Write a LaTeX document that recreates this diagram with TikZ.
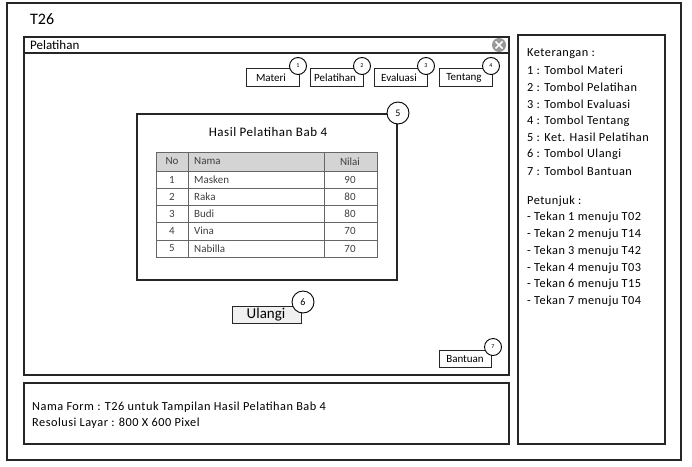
\documentclass[tikz,border=0pt]{standalone}
\usepackage{fontspec}
\setmainfont{Carlito}
\newfontfamily\spaced{Carlito}[LetterSpace=4]
\begin{document}
\begin{tikzpicture}[x=1pt,y=-1pt,
  frame/.style={draw=black!85,line width=1.3pt},
  btn/.style={draw=black!85,line width=0.9pt,fill=white},
  num/.style={draw=black,line width=0.9pt,fill=white,circle,inner sep=0pt,font=\fontsize{6}{6}\selectfont},
  txt/.style={anchor=west,inner sep=0pt,font=\spaced\fontsize{12.3}{13}\selectfont},
  cell/.style={inner sep=0pt,font=\fontsize{11}{11}\selectfont,text=black!75},
  grid/.style={draw=black!60,line width=0.9pt}]
\useasboundingbox (0,0) rectangle (692,466);
\fill[white] (0,0) rectangle (692,466);
% outer frame
\draw[frame] (7,3) rectangle (681,460);
\node[anchor=west,inner sep=0pt,font=\fontsize{16}{16}\selectfont] (title) at (30,19) {T26};
% window
\draw[frame] (24,37) rectangle (509,375);
\draw[frame] (24,53) -- (509,53);
\node[anchor=west,inner sep=0pt,font=\fontsize{13}{13}\selectfont] (wtitle) at (30,45) {Pelatihan};
\node[circle,fill=black!40,minimum size=14pt,inner sep=0pt] (close) at (499,45) {};
\draw[white,line width=1.6pt] (495.5,41.5) -- (502.5,48.5) (495.5,48.5) -- (502.5,41.5);
% top buttons
\foreach \n/\xl/\lab in {1/246/Materi,2/310/Pelatihan,3/374/Evaluasi,4/439/Tentang}{
  \draw[btn] (\xl,68) rectangle (\xl+53,86);
  \node[inner sep=0pt,font=\fontsize{11}{11}\selectfont] (b\n) at (\xl+25,77.5) {\lab};
  \node[num,minimum size=17pt] (c\n) at (\xl+52,66) {\n};
}
% result panel
\draw[frame,line width=1.1pt] (137,114) rectangle (397,280);
\node[num,minimum size=22pt,font=\fontsize{10}{10}\selectfont] (c5) at (398,113) {5};
\node[inner sep=0pt,font=\spaced\fontsize{13}{13}\selectfont] (htitle) at (268,132) {Hasil Pelatihan Bab 4};
% table
\fill[black!17] (156,152) rectangle (377,171);
\draw[grid] (156,152) rectangle (377,257);
\foreach \y in {171,188,205,222,240}{\draw[grid] (156,\y) -- (377,\y);}
\draw[grid] (188,152) -- (188,257);
\draw[grid] (324,152) -- (324,257);
\node[cell] (hno) at (172,161.5) {No};
\node[cell,anchor=west] (hnama) at (194,161.5) {Nama};
\node[cell] (hnilai) at (350,161.5) {Nilai};
\foreach \i/\yc/\nm/\v in {1/179.5/Masken/90,2/196.5/Raka/80,3/213.5/Budi/80,4/231/Vina/70,5/248.5/Nabilla/70}{
  \node[cell] (no\i) at (172,\yc) {\i};
  \node[cell,anchor=west] (nm\i) at (194,\yc) {\nm};
  \node[cell] (nv\i) at (350,\yc) {\v};
}
% Ulangi
\draw[draw=black!85,line width=0.9pt,fill=black!6] (232,306) rectangle (301,323);
\node[inner sep=0pt,font=\fontsize{15}{15}\selectfont] (ulangi) at (266,314.5) {Ulangi};
\node[num,minimum size=22pt,font=\fontsize{10}{10}\selectfont] (c6) at (303,302) {6};
% Bantuan
\draw[btn] (439,350) rectangle (491,367);
\node[inner sep=0pt,font=\fontsize{11}{11}\selectfont] (bantuan) at (465,359) {Bantuan};
\node[num,minimum size=17pt] (c7) at (493,347) {7};
% bottom box
\draw[frame] (24,383) rectangle (509,444);
\node[txt] (nf) at (32,407) {Nama Form : T26 untuk Tampilan Hasil Pelatihan Bab 4};
\node[txt] (rl) at (32,423) {Resolusi Layar : 800 X 600 Pixel};
% right panel
\draw[frame] (518,35) rectangle (665,444);
\foreach \t [count=\k from 0] in {Keterangan :,1 : Tombol Materi,2 : Tombol Pelatihan,3 : Tombol Evaluasi,4 : Tombol Tentang,5 : Ket. Hasil Pelatihan,6 : Tombol Ulangi,7 : Tombol Bantuan}{
  \node[txt] (k\k) at (527,54+16.7*\k) {\t};
}
\foreach \t [count=\k from 0] in {Petunjuk :,- Tekan 1 menuju T02,- Tekan 2 menuju T14,- Tekan 3 menuju T42,- Tekan 4 menuju T03,- Tekan 6 menuju T15,- Tekan 7 menuju T04}{
  \node[txt] (p\k) at (527,201+16.7*\k) {\t};
}
\end{tikzpicture}
\end{document}
